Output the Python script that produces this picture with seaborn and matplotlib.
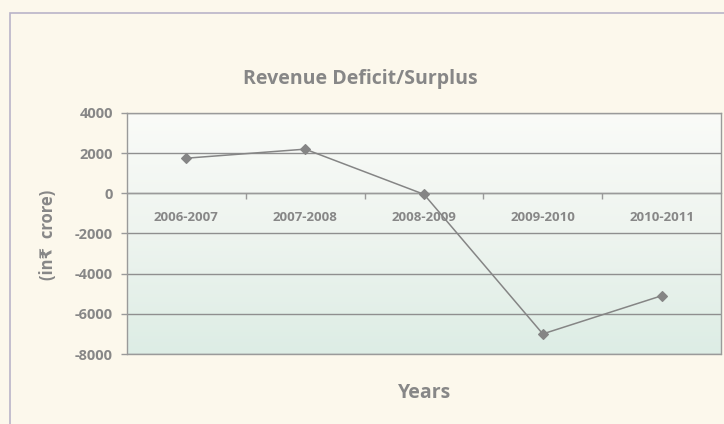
import numpy as np
import matplotlib
matplotlib.use("Agg")
import matplotlib.pyplot as plt
import seaborn as sns
import pandas as pd
from matplotlib.patches import Rectangle
from matplotlib.ticker import FixedLocator
from matplotlib.colors import LinearSegmentedColormap

years = ["2006-2007", "2007-2008", "2008-2009", "2009-2010", "2010-2011"]
values = [1750, 2200, -50, -7000, -5100]
yticks = [4000, 2000, 0, -2000, -4000, -6000, -8000]

sns.set_theme(style="white")
plt.rcParams['font.family'] = ['Open Sans', 'DejaVu Sans']

TXT = "#878787"
LINE = "#858585"

fig = plt.figure(figsize=(7.24, 4.24), dpi=100)
fig.patch.set_facecolor("#FCF8EC")
W, H = 724, 424
# outer chart border
fig.add_artist(Rectangle((10 / W, -0.1), 1.2, 1.1 - 13 / H, transform=fig.transFigure,
                         fill=False, edgecolor="#b9b4c8", linewidth=1.2))

ax = fig.add_axes([127 / W, 1 - 354 / H, (721 - 127) / W, (354 - 113) / H])

df = pd.DataFrame({"Year": years, "Value": values})
sns.pointplot(data=df, x="Year", y="Value", ax=ax, color=LINE, markers="D",
              markersize=5, linewidth=1.1, zorder=5)

ax.set_xlim(-0.5, len(years) - 0.5)
ax.set_ylim(min(yticks), max(yticks))

# gradient background
grad = np.linspace(0, 1, 256).reshape(-1, 1)
cmap = LinearSegmentedColormap.from_list("bg", ["#DDEDE5", "#EEF4EF", "#FAFBF8"])
ax.imshow(grad, cmap=cmap, aspect="auto", origin="lower",
          extent=[-0.5, len(years) - 0.5, min(yticks), max(yticks)], zorder=0)

ax.set_yticks(yticks)
ax.set_yticklabels([str(v) for v in yticks], fontsize=10.5, fontweight="bold", color=TXT)
ax.yaxis.grid(True, color="#8f8f8f", linewidth=1.0)
for l in ax.get_ygridlines():
    l.set_zorder(1)
ax.axhline(min(yticks), color="#9a9a9a", linewidth=1.0, clip_on=False, zorder=2)

ax.spines['bottom'].set_position(('data', 0))
for s in ax.spines.values():
    s.set_color("#9a9a9a")
    s.set_linewidth(1.0)
ax.spines['bottom'].set_zorder(2)

ax.set_xticks(range(len(years)))
ax.set_xticklabels(years, fontsize=9.5, fontweight="bold", color=TXT)
ax.xaxis.set_minor_locator(FixedLocator([i + 0.5 for i in range(len(years) - 1)]))
ax.tick_params(axis='x', which='major', length=0, pad=13)
ax.tick_params(axis='x', which='minor', length=4, width=1, color="#9a9a9a", direction="out", bottom=True)
ax.tick_params(axis='y', which='major', length=4, width=1, color="#9a9a9a", direction="out", left=True, pad=6)

ax.set_xlabel("")
ax.set_ylabel("")

fig.text(360 / W, 1 - 79 / H, "Revenue Deficit/Surplus", ha="center", va="center",
         fontsize=14, fontweight="bold", color=TXT)
fig.text(425 / W, 1 - 393 / H, "Years", ha="center", va="center",
         fontsize=14, fontweight="bold", color=TXT)
fig.text(48 / W, 1 - 235 / H, "(in\u20b9  crore)", ha="center", va="center", rotation=90,
         fontsize=12, fontweight="bold", color=TXT, family=['Open Sans', 'DejaVu Sans'])

fig.savefig("out.png", dpi=100, facecolor=fig.get_facecolor())
